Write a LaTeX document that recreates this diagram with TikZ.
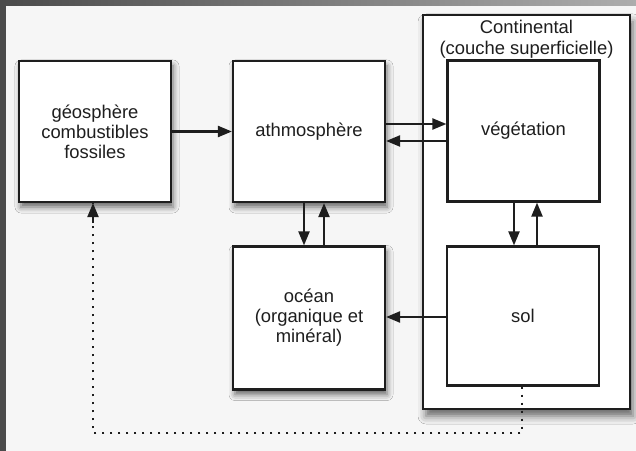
\documentclass[tikz,border=0pt]{standalone}
\usepackage{fontspec}
\setmainfont{Liberation Sans}
\usetikzlibrary{arrows.meta,shadows.blur}
\definecolor{ink}{HTML}{1E1E1E}
\definecolor{paper}{HTML}{F6F6F6}
\definecolor{frameDark}{HTML}{4B4B4B}
\definecolor{frameLight}{HTML}{ADADAD}
\begin{document}
\begin{tikzpicture}[x=1bp,y=-1bp,
  box/.style={draw=ink, line width=2.2bp, fill=white, minimum width=152bp,
    minimum height=141bp, align=center, text=ink, inner sep=0pt,
    font=\fontsize{18.4bp}{20bp}\selectfont},
  shadowbox/.style={box, blur shadow={shadow xshift=2bp, shadow yshift=-5bp,
    shadow blur radius=6bp, shadow opacity=60}},
  arr/.style={draw=ink, line width=2.2bp, -{Triangle[length=14bp,width=11bp]}},
  dotline/.style={draw=ink, line width=2.2bp, dash pattern=on 2bp off 6bp}
]
% page and frame
\useasboundingbox (0,0) rectangle (636,451);
\fill[paper] (0,0) rectangle (636,451);
\shade[left color=frameDark, right color=frameLight] (0,0) rectangle (636,6);
\fill[frameDark] (0,0) rectangle (6,451);

% continental compartment
\node[draw=ink, line width=2.2bp, fill=white, minimum width=207bp, minimum height=394bp,
  inner sep=0pt, blur shadow={shadow xshift=3bp, shadow yshift=-7bp,
  shadow blur radius=8bp, shadow opacity=60}] (cont) at (526.5,212) {};
\node[text=ink, align=center, font=\fontsize{18.4bp}{21bp}\selectfont] (contlabel)
  at (526.5,39) {Continental\\(couche superficielle)};

% reservoirs
\node[shadowbox] (geo) at (95,131.5) {géosphère\\combustibles\\fossiles};
\node[shadowbox] (atm) at (309,131.5) {athmosphère};
\node[shadowbox, minimum height=143bp] (ocean) at (309,318) {océan\\(organique et\\minéral)};
\node[box] (veg) at (523.5,131) {végétation};
\node[box, minimum height=139bp] (sol) at (523,316) {sol};

% fluxes
\draw[arr] (geo) -- (atm);
\draw[arr] (atm.east |- 0,124) -- (veg.west |- 0,124);
\draw[arr] (veg.west |- 0,141) -- (atm.east |- 0,141);
\draw[arr] (atm.south -| 304,0) -- (ocean.north -| 304,0);
\draw[arr] (ocean.north -| 324,0) -- (atm.south -| 324,0);
\draw[arr] (veg.south -| 514,0) -- (sol.north -| 514,0);
\draw[arr] (sol.north -| 537,0) -- (veg.south -| 537,0);
\draw[arr] (sol.west |- 0,317) -- (ocean.east |- 0,317);

% return path to the geosphere
\coordinate (corner) at (522,433);
\draw[dotline] (sol.south -| corner) -- (corner) -- (corner -| 93,0) -- (geo.south -| 93,0);
\draw[arr] (geo.south -| 93,0) ++(0,20) -- (geo.south -| 93,0);
\end{tikzpicture}
\end{document}
